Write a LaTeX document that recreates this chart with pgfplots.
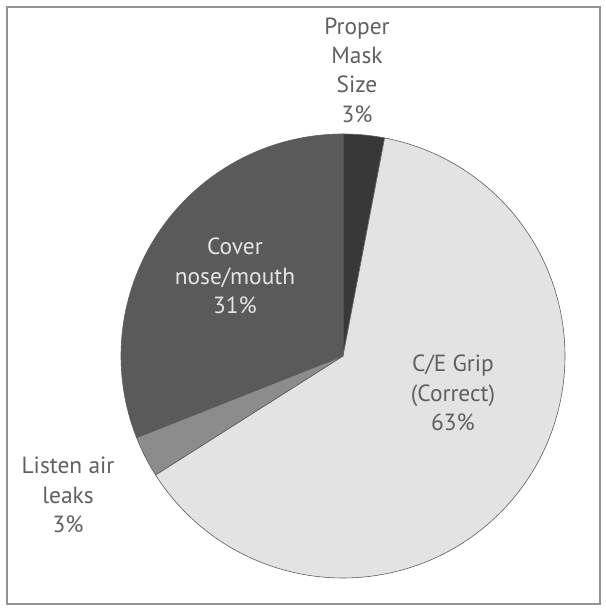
\documentclass[border=0pt]{standalone}
\usepackage{fontspec}
\setmainfont{PT Sans}
\usepackage{pgfplots}
\pgfplotsset{compat=1.18}
\definecolor{cProper}{HTML}{383838}
\definecolor{cGrip}{HTML}{E3E3E3}
\definecolor{cListen}{HTML}{8C8C8C}
\definecolor{cCover}{HTML}{5A5A5A}
\definecolor{cEdge}{HTML}{5E5E5E}
\definecolor{cText}{HTML}{606060}
% slice values (percent), clockwise from 12 o'clock
\def\vProper{3}
\def\vGrip{63}
\def\vListen{3}
\def\vCover{31}
\pgfmathsetmacro{\aA}{90}
\pgfmathsetmacro{\aB}{\aA-3.6*\vProper}
\pgfmathsetmacro{\aC}{\aB-3.6*\vGrip}
\pgfmathsetmacro{\aD}{\aC-3.6*\vListen}
\pgfmathsetmacro{\aE}{\aD-3.6*\vCover}
\def\cx{343}
\def\cy{252}
\def\rr{222}
\begin{document}
\begin{tikzpicture}
\begin{axis}[
  width=606bp, height=608bp, scale only axis,
  xmin=0, xmax=606, ymin=0, ymax=608,
  hide axis, clip=false,
]
\path (axis cs:0,0) rectangle (axis cs:606,608);
\draw[color=gray!85, line width=1.6bp] (axis cs:7,4) rectangle (axis cs:600,601);
\addplot[fill=cProper, draw=cEdge, line width=0.6bp, domain=\aB:\aA, samples=20, variable=\t]
  ({\cx+\rr*cos(\t)},{\cy+\rr*sin(\t)}) -- (axis cs:\cx,\cy) -- cycle;
\addplot[fill=cGrip, draw=cEdge, line width=0.6bp, domain=\aC:\aB, samples=180, variable=\t]
  ({\cx+\rr*cos(\t)},{\cy+\rr*sin(\t)}) -- (axis cs:\cx,\cy) -- cycle;
\addplot[fill=cListen, draw=cEdge, line width=0.6bp, domain=\aD:\aC, samples=20, variable=\t]
  ({\cx+\rr*cos(\t)},{\cy+\rr*sin(\t)}) -- (axis cs:\cx,\cy) -- cycle;
\addplot[fill=cCover, draw=cEdge, line width=0.6bp, domain=\aE:\aD, samples=100, variable=\t]
  ({\cx+\rr*cos(\t)},{\cy+\rr*sin(\t)}) -- (axis cs:\cx,\cy) -- cycle;
\tikzset{lab/.style={align=center, font=\fontsize{23.5}{29.5}\selectfont, text=cText}}
\node[lab] at (axis cs:357,538) {Proper\\Mask\\Size\\3\%};
\node[lab, text=white!90!black] at (axis cs:235,332) {Cover\\nose/mouth\\31\%};
\node[lab] at (axis cs:453,215) {C/E Grip\\(Correct)\\63\%};
\node[lab] at (axis cs:68,113) {Listen air\\leaks\\3\%};
\end{axis}
\end{tikzpicture}
\end{document}
